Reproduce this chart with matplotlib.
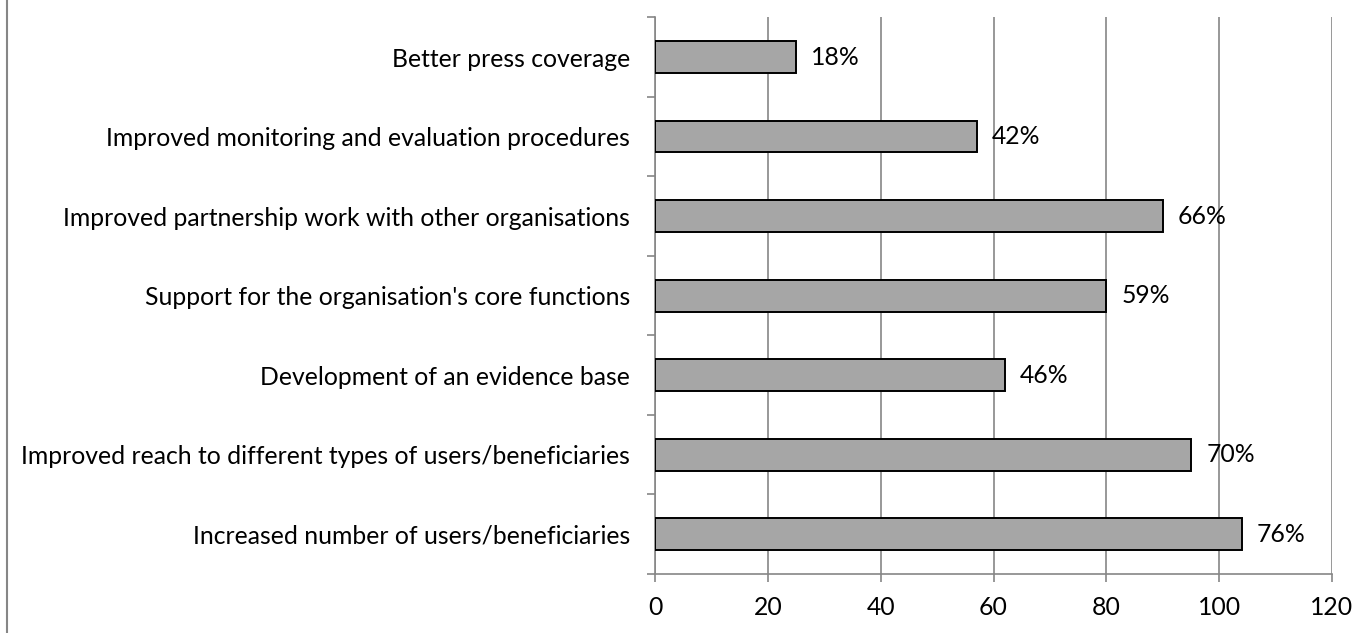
import matplotlib.pyplot as plt
from matplotlib.lines import Line2D

# categories listed top to bottom as in the chart
categories = [
    "Better press coverage",
    "Improved monitoring and evaluation procedures",
    "Improved partnership work with other organisations",
    "Support for the organisation's core functions",
    "Development of an evidence base",
    "Improved reach to different types of users/beneficiaries",
    "Increased number of users/beneficiaries",
]
counts = [25, 57, 90, 80, 62, 95, 104]
pct_labels = ["18%", "42%", "66%", "59%", "46%", "70%", "76%"]
x_ticks = [0, 20, 40, 60, 80, 100, 120]

GRID = "#868686"
FS = 17.8
plt.rcParams["font.family"] = ["Lato", "DejaVu Sans"]

fig = plt.figure(figsize=(13.69, 6.33), dpi=100)
ax = fig.add_axes([655 / 1369, 1 - 574 / 633, (1332 - 655) / 1369, (574 - 17.3) / 633])

# first category goes at the top
ypos = list(range(len(categories)))[::-1]
ax.barh(ypos, counts, height=0.4, color="#a6a6a6", edgecolor="black", linewidth=1.4, zorder=3)

for y, v, lab in zip(ypos, counts, pct_labels):
    ax.annotate(lab, (v, y), xytext=(11, 0), textcoords="offset points",
                va="center", ha="left", fontsize=FS, zorder=4)

ax.set_xlim(0, 120)
ax.set_ylim(-0.5, len(categories) - 0.5)
ax.set_xticks(x_ticks)
ax.set_xticklabels([str(t) for t in x_ticks], fontsize=FS)

# category labels at bar centres, tick marks at category boundaries
ax.set_yticks(ypos)
ax.set_yticklabels(categories, fontsize=FS)
ax.tick_params(axis="y", which="major", length=0, pad=18)
ax.set_yticks([i - 0.5 for i in range(len(categories) + 1)], minor=True)
ax.tick_params(axis="y", which="minor", length=6, width=1.2, color=GRID)
ax.tick_params(axis="x", length=6, width=1.2, color=GRID, pad=10)

ax.grid(axis="x", color=GRID, linewidth=1.2, zorder=0)
for s in ["top", "right"]:
    ax.spines[s].set_visible(False)
for s in ["left", "bottom"]:
    ax.spines[s].set_color(GRID)
    ax.spines[s].set_linewidth(1.2)

# left border of the chart area
fig.add_artist(Line2D([7 / 1369, 7 / 1369], [0, 1], color=GRID, linewidth=1.5,
                      transform=fig.transFigure))

fig.savefig("out.png", dpi=100)
